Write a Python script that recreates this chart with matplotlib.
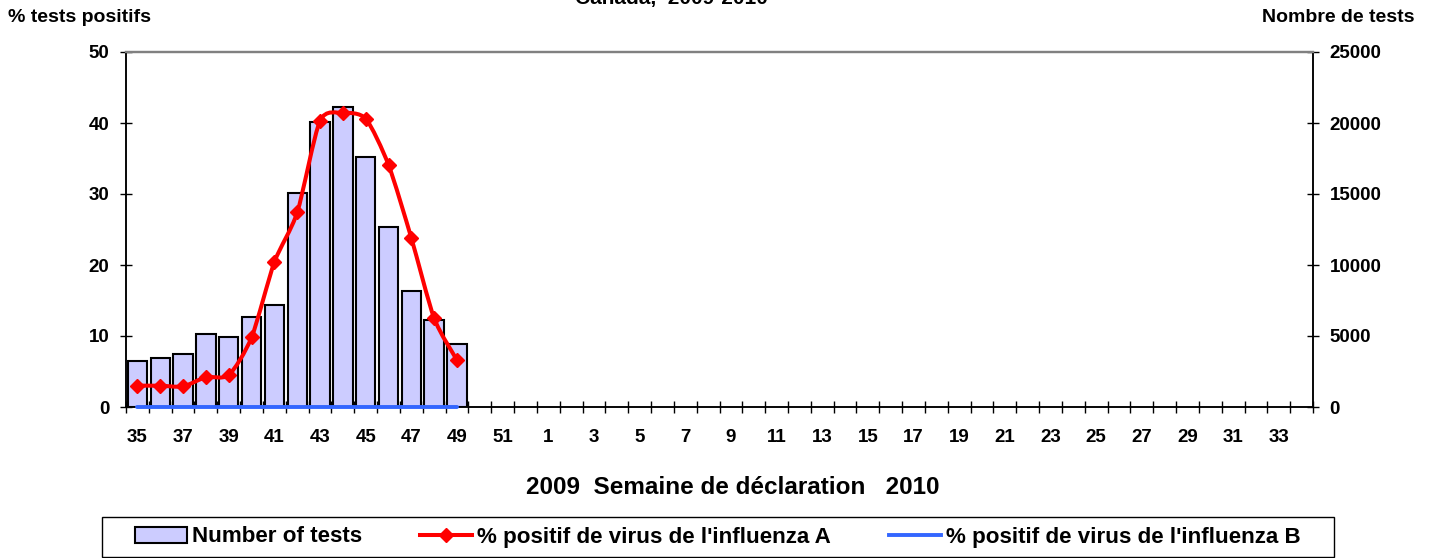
import numpy as np
import matplotlib
matplotlib.use('Agg')
import matplotlib.pyplot as plt
import matplotlib.patches as mpatches
from matplotlib.path import Path
from matplotlib.lines import Line2D

plt.rcParams['font.family'] = ['Liberation Sans', 'DejaVu Sans']
plt.rcParams['font.weight'] = 'bold'

# reporting weeks, 2009 (35-52) then 2010 (1-34)
weeks = list(range(35, 53)) + list(range(1, 35))
# data only for weeks 35..49
n_tests = [3250, 3420, 3700, 5130, 4920, 6370, 7150, 15060, 20050, 21150,
           17630, 12710, 8200, 6160, 4470]
pct_a = [3.0, 3.0, 2.9, 4.2, 4.5, 9.8, 20.4, 27.4, 40.3, 41.4,
         40.6, 34.1, 23.8, 12.5, 6.6]
pct_b = [0.0, 0.0, 0.0, 0.0, 0.0, 0.0, 0.0, 0.0, 0.0, 0.0,
         0.0, 0.0, 0.0, 0.0, 0.0]

W, H = 1431, 558
red = '#FF0000'
blue = '#3366FF'
bar_c = '#CCCCFF'


def smooth_path(xs, ys, k=8.0):
    # smoothed line like excel: catmull-rom turned into cubic bezier segments
    pts = np.column_stack([xs, ys]).astype(float)
    n = len(pts)
    verts = [pts[0]]
    codes = [Path.MOVETO]
    for i in range(n - 1):
        p0 = pts[i - 1] if i > 0 else pts[i]
        p1 = pts[i]
        p2 = pts[i + 1]
        p3 = pts[i + 2] if i + 2 < n else pts[i + 1]
        c1 = p1 + (p2 - p0) / k
        c2 = p2 - (p3 - p1) / k
        verts += [c1, c2, p2]
        codes += [Path.CURVE4] * 3
    return Path(verts, codes)


fig = plt.figure(figsize=(W / 100, H / 100), dpi=100)
ax1 = fig.add_axes([126 / W, 151 / H, 1187 / W, 355 / H])
ax2 = ax1.twinx()

x = np.arange(len(n_tests))
ax2.bar(x, n_tests, width=0.85, color=bar_c, edgecolor='black', linewidth=1.5)
ax2.set_ylim(0, 25000)
ax2.set_yticks(np.arange(0, 25001, 5000))

ax1.set_zorder(ax2.get_zorder() + 1)
ax1.patch.set_visible(False)

ax1.add_patch(mpatches.PathPatch(smooth_path(x, pct_a), fill=False,
                                 edgecolor=red, linewidth=2.9, capstyle='round'))
ax1.plot(x, pct_a, linestyle='none', marker='D', markersize=7.5, color=red)
ax1.plot(x, pct_b, color=blue, linewidth=2.8, solid_capstyle='round',
         clip_on=False, zorder=5)

ax1.set_ylim(0, 50)
ax1.set_yticks(np.arange(0, 51, 10))
ax1.set_xlim(-0.5, len(weeks) - 0.5)
ax1.set_xticks(np.arange(-0.5, len(weeks), 1))
ax1.set_xticklabels([])
ax1.set_xticks(np.arange(0, len(weeks), 2), minor=True)
ax1.set_xticklabels([str(w) for w in weeks[::2]], minor=True)

ax1.tick_params(axis='x', which='major', direction='inout', length=8, width=1)
ax1.tick_params(axis='x', which='minor', length=0, pad=16, labelsize=13.5)
ax1.tick_params(axis='y', direction='inout', length=8.6, width=1, pad=7.5, labelsize=13.5)
ax2.tick_params(axis='y', direction='inout', length=8.6, width=1, pad=7.5, labelsize=13.5)

for ax in (ax1, ax2):
    for s in ('left', 'right', 'bottom'):
        ax.spines[s].set_linewidth(1.1)
        ax.spines[s].set_color('black')
    ax.spines['top'].set_color('#808080')
    ax.spines['top'].set_linewidth(1.6)

fig.text(671 / W, 1 - 4.3 / H, 'Canada,  2009-2010', ha='center', va='baseline',
         fontsize=15, fontweight='bold')
fig.text(8 / W, 1 - 22 / H, '% tests positifs', ha='left', va='baseline',
         fontsize=14, fontweight='bold')
fig.text(1415 / W, 1 - 22 / H, 'Nombre de tests', ha='right', va='baseline',
         fontsize=14, fontweight='bold')
fig.text(733 / W, 1 - 494 / H, '2009  Semaine de déclaration   2010', ha='center',
         va='baseline', fontsize=17.5, fontweight='bold')

handles = [mpatches.Patch(facecolor=bar_c, edgecolor='black', linewidth=1.5),
           Line2D([], [], color=red, linewidth=2.9, marker='D', markersize=7.5),
           Line2D([], [], color=blue, linewidth=2.8)]
labels = ['Number of tests', "% positif de virus de l'influenza A",
          "% positif de virus de l'influenza B"]
fig.legend(handles, labels, loc='center', bbox_to_anchor=(718 / W, 1 - 537 / H),
           ncol=3, frameon=False, fontsize=16.1, handlelength=2.3,
           handletextpad=0.25, columnspacing=2.6, numpoints=1)
fig.add_artist(mpatches.Rectangle((102 / W, 1 / H), 1232 / W, 40 / H,
                                  transform=fig.transFigure, fill=False,
                                  edgecolor='black', linewidth=1))

fig.savefig('out.png', dpi=100)
